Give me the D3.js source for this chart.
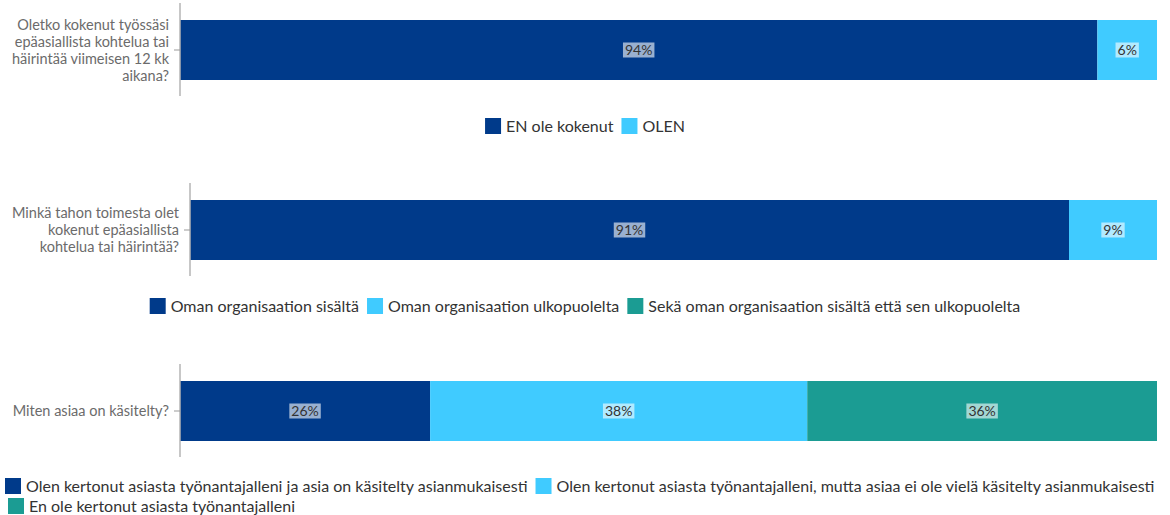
<!DOCTYPE html>
<html>
<head>
<meta charset="utf-8">
<script src="https://cdn.jsdelivr.net/npm/d3@7"></script>
<style>
  body { margin: 0; background: #fff; }
  svg { display: block; font-family: Lato, "Open Sans", sans-serif; }
</style>
</head>
<body>
<div id="chart"></div>
<script>
// data
const q1Lines = ['Oletko kokenut työssäsi', 'epäasiallista kohtelua tai', 'häirintää viimeisen 12 kk', 'aikana?'];
const q1Keys = ['EN ole kokenut', 'OLEN'];
const q1Values = [93.9, 6.1];
const q1Labels = ['94%', '6%'];

const q2Lines = ['Minkä tahon toimesta olet', 'kokenut epäasiallista', 'kohtelua tai häirintää?'];
const q2Keys = ['Oman organisaation sisältä', 'Oman organisaation ulkopuolelta', 'Sekä oman organisaation sisältä että sen ulkopuolelta'];
const q2Values = [90.9, 9.1, 0];
const q2Labels = ['91%', '9%', ''];

const q3Lines = ['Miten asiaa on käsitelty?'];
const q3Keys = ['Olen kertonut asiasta työnantajalleni ja asia on käsitelty asianmukaisesti',
  'Olen kertonut asiasta työnantajalleni, mutta asiaa ei ole vielä käsitelty asianmukaisesti',
  'En ole kertonut asiasta työnantajalleni'];
const q3Values = [25.6, 38.6, 35.8];
const q3Labels = ['26%', '38%', '36%'];

const colors = ['#003a8a', '#40cbff', '#1b9c93'];

const W = 1170, H = 515;
const right = 1157;

const svg = d3.select('#chart').append('svg')
  .attr('width', W)
  .attr('height', H);

const charts = [
  { lines: q1Lines, keys: q1Keys, values: q1Values, labels: q1Labels, left: 180, top: 20, legendRows: [[0, 1]], legendY: [126] },
  { lines: q2Lines, keys: q2Keys, values: q2Values, labels: q2Labels, left: 190, top: 200, legendRows: [[0, 1, 2]], legendY: [306] },
  { lines: q3Lines, keys: q3Keys, values: q3Values, labels: q3Labels, left: 180, top: 381, legendRows: [[0, 1], [2]], legendY: [486, 506], legendLeft: [5, 8] }
];

const barH = 60;

charts.forEach((c, ci) => {
  const g = svg.append('g').attr('class', 'chart_' + ci);

  const x = d3.scaleLinear().domain([0, 100]).range([c.left, right]);

  // stacked segments
  let acc = 0;
  const segs = c.values.map((v, i) => {
    const s = { key: c.keys[i], x0: acc, x1: acc + v, v: v, i: i, label: c.labels[i] };
    acc += v;
    return s;
  }).filter(d => d.v > 0);

  const by = c.top;

  g.selectAll('rect.seg')
    .data(segs)
    .join('rect')
    .attr('class', 'seg')
    .attr('x', d => x(d.x0))
    .attr('y', by)
    .attr('width', d => x(d.x1) - x(d.x0))
    .attr('height', barH)
    .attr('fill', d => colors[d.i]);

  // axis line + tick
  g.append('line')
    .attr('x1', c.left).attr('x2', c.left)
    .attr('y1', by - 17).attr('y2', by + barH + 16)
    .attr('stroke', '#b5b5b5').attr('stroke-width', 1.5);
  g.append('line')
    .attr('x1', c.left - 6).attr('x2', c.left)
    .attr('y1', by + barH / 2).attr('y2', by + barH / 2)
    .attr('stroke', '#999').attr('stroke-width', 1);

  // question label
  const lh = 17;
  const ty = by + barH / 2 - (c.lines.length - 1) * lh / 2;
  const lab = g.append('text')
    .attr('text-anchor', 'end')
    .attr('font-size', 14.5)
    .attr('fill', '#6b6b6b');
  c.lines.forEach((t, i) => {
    lab.append('tspan')
      .attr('x', c.left - 11)
      .attr('y', ty + i * lh)
      .attr('dy', '0.35em')
      .text(t);
  });

  // value labels
  segs.forEach(d => {
    const cx = (x(d.x0) + x(d.x1)) / 2;
    const cy = by + barH / 2;
    const bg = g.append('rect')
      .attr('fill', '#fff')
      .attr('opacity', 0.6);
    const t = g.append('text')
      .attr('x', cx).attr('y', cy)
      .attr('dy', '0.35em')
      .attr('text-anchor', 'middle')
      .attr('font-size', 14)
      .attr('fill', '#333')
      .text(d.label);
    const bb = t.node().getBBox();
    bg.attr('x', bb.x - 2).attr('y', cy - 7.5)
      .attr('width', bb.width + 4).attr('height', 15);
  });

  // legend
  c.legendRows.forEach((row, ri) => {
    const lg = g.append('g');
    let cur = 0;
    row.forEach(k => {
      const item = lg.append('g').attr('transform', 'translate(' + cur + ',0)');
      item.append('rect')
        .attr('x', 0).attr('y', -8)
        .attr('width', 16).attr('height', 16)
        .attr('fill', colors[k]);
      const t = item.append('text')
        .attr('x', 21).attr('y', 0)
        .attr('dy', '0.35em')
        .attr('font-size', 16)
        .attr('fill', '#333')
        .text(c.keys[k]);
      cur += 21 + t.node().getComputedTextLength() + 8;
    });
    const total = cur - 8;
    const lx = c.legendLeft ? c.legendLeft[ri] : (W - total) / 2;
    lg.attr('transform', 'translate(' + lx + ',' + c.legendY[ri] + ')');
  });
});
</script>
</body>
</html>
